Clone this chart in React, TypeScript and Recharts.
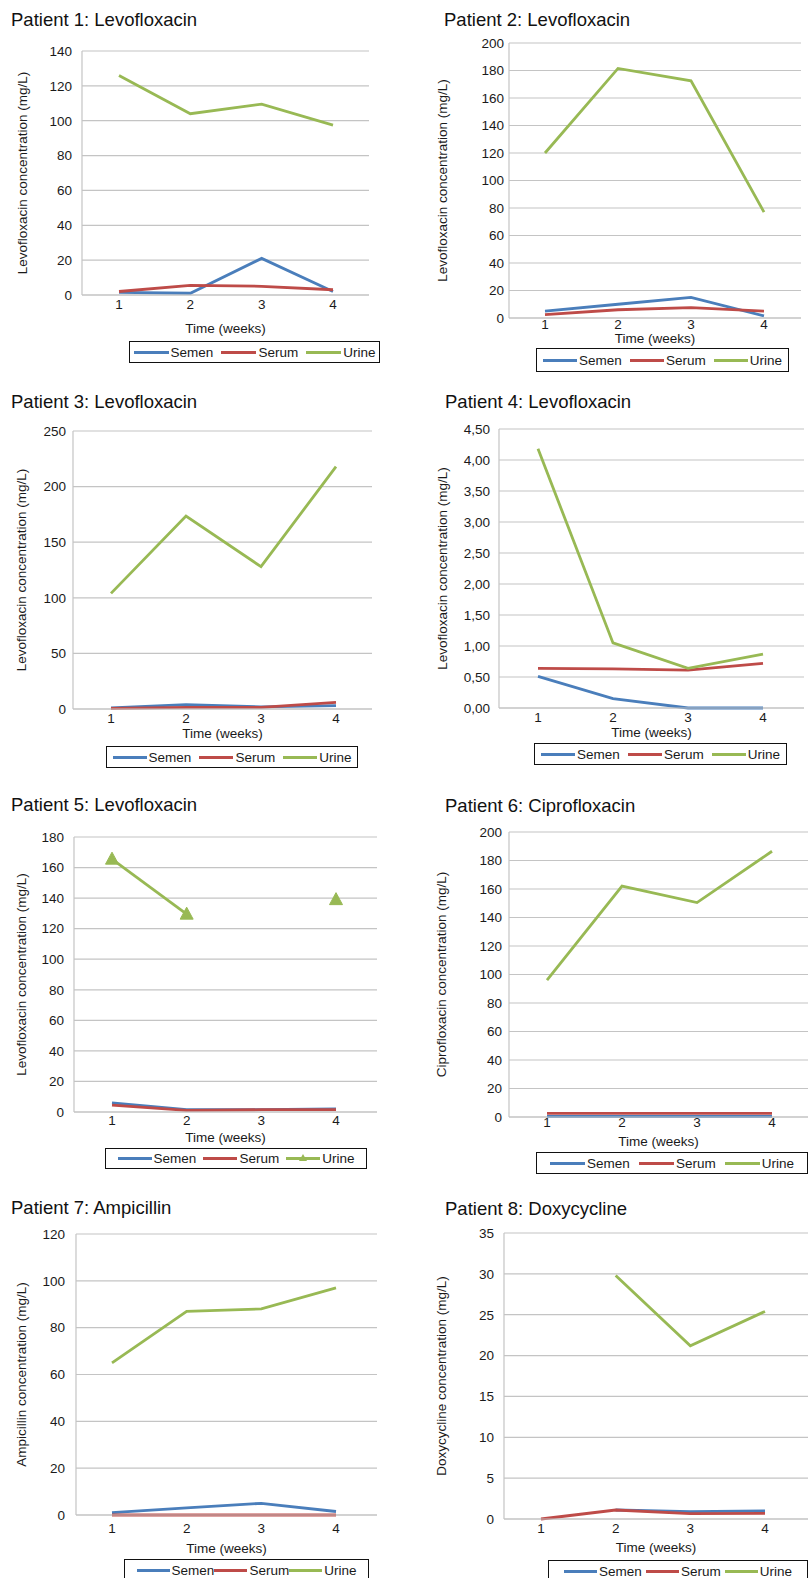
import React from 'react';
import { LineChart, Line, XAxis, YAxis, CartesianGrid } from 'recharts';

const weeks = ['1', '2', '3', '4'];

const p1Semen = [1.5, 1, 21, 2];
const p1Serum = [2, 5.5, 5, 3];
const p1Urine = [126, 104, 109.5, 97.5];
const p1Ticks = [0, 20, 40, 60, 80, 100, 120, 140];

const p2Semen = [5, 10, 15, 1.5];
const p2Serum = [2.5, 6, 7.5, 5];
const p2Urine = [120, 181.5, 172.5, 77];
const p2Ticks = [0, 20, 40, 60, 80, 100, 120, 140, 160, 180, 200];

const p3Semen = [1, 4, 2, 3];
const p3Serum = [0.5, 1.5, 1.5, 6];
const p3Urine = [104, 173.5, 128, 218];
const p3Ticks = [0, 50, 100, 150, 200, 250];

const p4Semen = [0.51, 0.15, 0, 0];
const p4Serum = [0.64, 0.63, 0.61, 0.72];
const p4Urine = [4.18, 1.05, 0.64, 0.87];
const p4Ticks = [0, 0.5, 1, 1.5, 2, 2.5, 3, 3.5, 4, 4.5];

const p5Semen = [6, 1.5, 1.5, 2];
const p5Serum = [4.5, 1, 1.5, 1.5];
const p5Urine = [165.5, 129.5, null, 139];
const p5Ticks = [0, 20, 40, 60, 80, 100, 120, 140, 160, 180];

const p6Semen = [0.5, 0.5, 0.5, 0.5];
const p6Serum = [2.5, 2.5, 2.5, 2.5];
const p6Urine = [96, 162, 150.5, 186.5];
const p6Ticks = [0, 20, 40, 60, 80, 100, 120, 140, 160, 180, 200];

const p7Semen = [1, 3, 5, 1.5];
const p7Serum = [0, 0, 0, 0];
const p7Urine = [65, 87, 88, 97];
const p7Ticks = [0, 20, 40, 60, 80, 100, 120];

const p8Semen = [null, 1.1, 0.9, 1.0];
const p8Serum = [0, 1.1, 0.65, 0.7];
const p8Urine = [null, 29.8, 21.2, 25.4];
const p8Ticks = [0, 5, 10, 15, 20, 25, 30, 35];

const BLUE = '#4a7ebb';
const RED = '#be4b48';
const GREEN = '#98b954';
const GRID = '#c4c4c4';
const FONT = '"Liberation Sans", Arial, sans-serif';
const FS = 13.5;

const rows = (s: (number | null)[], r: (number | null)[], u: (number | null)[]) =>
  weeks.map((w, i) => ({ week: w, semen: s[i], serum: r[i], urine: u[i] }));

const panels = [
  {
    title: 'Patient 1: Levofloxacin', drug: 'Levofloxacin', data: rows(p1Semen, p1Serum, p1Urine), ticks: p1Ticks,
    px: 0, titleX: 11, titleY: 20, l: 82, r: 369, t: 51, b: 295, padL: 37, padR: 36,
    yMargin: 10, xMargin: 4, xLabel: 33, yLabelX: 22,
    legend: { x: 129, y: 341, w: 251, h: 22, line: 35, gap: 8 },
  },
  {
    title: 'Patient 2: Levofloxacin', drug: 'Levofloxacin', data: rows(p2Semen, p2Serum, p2Urine), ticks: p2Ticks,
    px: 405, titleX: 444, titleY: 20, l: 509, r: 801, t: 43, b: 318, padL: 36, padR: 37,
    yMargin: 5, xMargin: 1, xLabel: 20, yLabelX: 442,
    legend: { x: 536, y: 348, w: 253, h: 24, line: 34, gap: 8 },
  },
  {
    title: 'Patient 3: Levofloxacin', drug: 'Levofloxacin', data: rows(p3Semen, p3Serum, p3Urine), ticks: p3Ticks,
    px: 0, titleX: 11, titleY: 402, l: 73, r: 372, t: 431, b: 709, padL: 38, padR: 36,
    yMargin: 7, xMargin: 4, xLabel: 24, yLabelX: 21,
    legend: { x: 106, y: 746, w: 252, h: 22, line: 34, gap: 8 },
  },
  {
    title: 'Patient 4: Levofloxacin', drug: 'Levofloxacin', data: rows(p4Semen, p4Serum, p4Urine), ticks: p4Ticks,
    px: 405, titleX: 445, titleY: 402, l: 499, r: 804, t: 429, b: 708, padL: 39, padR: 41,
    yMargin: 9, xMargin: 4, xLabel: 24, yLabelX: 442, decimals: true,
    legend: { x: 534, y: 743, w: 253, h: 22, line: 34, gap: 8 },
  },
  {
    title: 'Patient 5: Levofloxacin', drug: 'Levofloxacin', data: rows(p5Semen, p5Serum, p5Urine), ticks: p5Ticks,
    px: 0, titleX: 11, titleY: 805, l: 74, r: 377, t: 837, b: 1112, padL: 38, padR: 41,
    yMargin: 10, xMargin: 3, xLabel: 25, yLabelX: 21, markers: true,
    legend: { x: 105, y: 1148, w: 262, h: 21, line: 34, gap: 7 },
  },
  {
    title: 'Patient 6: Ciprofloxacin', drug: 'Ciprofloxacin', data: rows(p6Semen, p6Serum, p6Urine), ticks: p6Ticks,
    px: 405, titleX: 445, titleY: 806, l: 509, r: 808, t: 832, b: 1117, padL: 38, padR: 36,
    yMargin: 7, xMargin: 0, xLabel: 24, yLabelX: 441,
    legend: { x: 536, y: 1152, w: 272, h: 22, line: 35, gap: 9 },
  },
  {
    title: 'Patient 7: Ampicillin', drug: 'Ampicillin', data: rows(p7Semen, p7Serum, p7Urine), ticks: p7Ticks,
    px: 0, titleX: 11, titleY: 1208, l: 76, r: 377, t: 1234, b: 1515, padL: 36, padR: 41,
    yMargin: 11, xMargin: 8, xLabel: 33, yLabelX: 21,
    legend: { x: 124, y: 1559, w: 245, h: 22, line: 33, gap: 0 },
  },
  {
    title: 'Patient 8: Doxycycline', drug: 'Doxycycline', data: rows(p8Semen, p8Serum, p8Urine), ticks: p8Ticks,
    px: 405, titleX: 445, titleY: 1209, l: 504, r: 808, t: 1233, b: 1519, padL: 37, padR: 43,
    yMargin: 10, xMargin: 4, xLabel: 28, yLabelX: 441,
    legend: { x: 548, y: 1560, w: 260, h: 22, line: 33, gap: 4 },
  },
];

const Triangle = (props: any) => {
  const { cx, cy, index } = props;
  if (cx == null || cy == null) return <g key={`tri-${index}`} />;
  return (
    <path
      key={`tri-${index}`}
      d={`M${cx},${cy - 7} L${cx + 6.5},${cy + 5} L${cx - 6.5},${cy + 5} Z`}
      fill={GREEN}
      stroke={GREEN}
    />
  );
};

const LegendBox = ({ cfg, markers }: { cfg: any; markers?: boolean }) => {
  const items = [
    { name: 'Semen', color: BLUE },
    { name: 'Serum', color: RED },
    { name: 'Urine', color: GREEN },
  ];
  return (
    <div
      style={{
        position: 'absolute', left: cfg.x, top: cfg.y, width: cfg.w, height: cfg.h,
        border: '1.5px solid #111', boxSizing: 'border-box', background: '#fff',
        display: 'flex', alignItems: 'center', justifyContent: 'center', gap: cfg.gap,
        fontSize: FS, color: '#1a1a1a', fontFamily: FONT,
      }}
    >
      {items.map((it) => (
        <div key={it.name} style={{ display: 'flex', alignItems: 'center', gap: 2 }}>
          <div style={{ position: 'relative', width: cfg.line, height: 3, background: it.color }}>
            {markers && it.name === 'Urine' && (
              <div
                style={{
                  position: 'absolute', left: cfg.line / 2 - 4, top: -3,
                  width: 0, height: 0, borderLeft: '4px solid transparent',
                  borderRight: '4px solid transparent', borderBottom: `7px solid ${it.color}`,
                }}
              />
            )}
          </div>
          <span>{it.name}</span>
        </div>
      ))}
    </div>
  );
};

const Panel = ({ p }: { p: any }) => {
  const chartTop = p.t - 10;
  const height = p.b - p.t + 10 + 50;
  const width = p.r - p.px + 2;
  const yAxisW = p.l - p.px;
  const max = p.ticks[p.ticks.length - 1];
  const fmt = (v: number) => (p.decimals ? v.toFixed(2).replace('.', ',') : String(v));
  return (
    <>
      <div
        style={{
          position: 'absolute', left: p.titleX, top: p.titleY - 9, fontSize: 18.5,
          lineHeight: '18px', color: '#111', fontFamily: FONT, whiteSpace: 'nowrap',
        }}
      >
        {p.title}
      </div>
      <div style={{ position: 'absolute', left: p.px, top: chartTop }}>
        <LineChart width={width} height={height} data={p.data} margin={{ top: 10, right: 2, left: 0, bottom: 0 }}>
          <CartesianGrid vertical={false} stroke={GRID} strokeWidth={1.2} />
          <XAxis
            dataKey="week"
            height={50}
            padding={{ left: p.padL, right: p.padR }}
            axisLine={{ stroke: GRID, strokeWidth: 1.2 }}
            tickLine={false}
            tickSize={0}
            tickMargin={p.xMargin}
            tick={{ fontSize: FS, fill: '#1a1a1a' }}
            label={{
              content: (lp: any) => {
                const vb = lp.viewBox || {};
                return (
                  <text
                    x={vb.x + vb.width / 2}
                    y={vb.y + p.xLabel}
                    dy="0.35em"
                    textAnchor="middle"
                    fontSize={FS}
                    fill="#1a1a1a"
                  >
                    Time (weeks)
                  </text>
                );
              },
            }}
          />
          <YAxis
            width={yAxisW}
            domain={[0, max]}
            ticks={p.ticks}
            interval={0}
            axisLine={{ stroke: GRID, strokeWidth: 1.2 }}
            tickLine={false}
            tickSize={0}
            tickMargin={p.yMargin}
            tickFormatter={fmt}
            tick={{ fontSize: FS, fill: '#1a1a1a' }}
            label={{
              content: (lp: any) => {
                const vb = lp.viewBox || {};
                const cx = vb.x + (p.yLabelX - p.px);
                const cy = vb.y + vb.height / 2;
                return (
                  <text
                    x={cx}
                    y={cy}
                    dy="0.35em"
                    textAnchor="middle"
                    fontSize={FS}
                    fill="#1a1a1a"
                    transform={`rotate(-90, ${cx}, ${cy})`}
                  >
                    {`${p.drug} concentration (mg/L)`}
                  </text>
                );
              },
            }}
          />
          <Line type="linear" dataKey="semen" stroke={BLUE} strokeWidth={2.8} dot={false} isAnimationActive={false} />
          <Line type="linear" dataKey="serum" stroke={RED} strokeWidth={2.8} dot={false} isAnimationActive={false} />
          <Line
            type="linear"
            dataKey="urine"
            stroke={GREEN}
            strokeWidth={2.8}
            dot={p.markers ? Triangle : false}
            isAnimationActive={false}
          />
        </LineChart>
      </div>
      <LegendBox cfg={p.legend} markers={p.markers} />
    </>
  );
};

export default function App() {
  return (
    <div
      style={{
        position: 'absolute', left: 0, top: 0, width: 810, height: 1578,
        background: '#fff', overflow: 'hidden', fontFamily: FONT,
      }}
    >
      {panels.map((p) => (
        <Panel key={p.title} p={p} />
      ))}
    </div>
  );
}
